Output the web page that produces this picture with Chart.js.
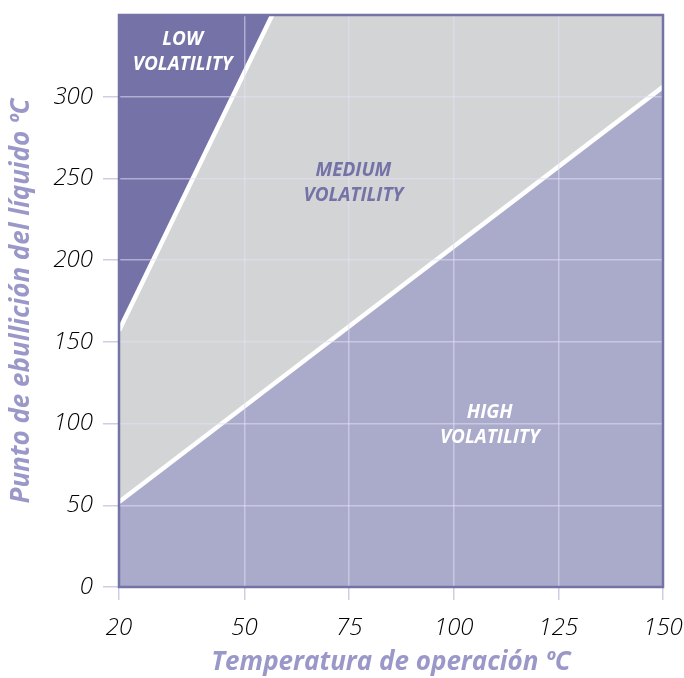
<!DOCTYPE html>
<html>
<head>
<meta charset="utf-8">
<script src="https://cdn.jsdelivr.net/npm/chart.js@4/dist/chart.umd.min.js"></script>
<style>
  html, body { margin: 0; padding: 0; background: #fff; }
  #wrap { width: 684px; height: 678px; }
</style>
</head>
<body>
<div id="wrap"><canvas id="myChart"></canvas></div>
<script>
// Boundary lines (temperature, boiling point)
const lowerX = [20, 150];
const lowerY = [52, 306];
const upperX = [20, 57];
const upperY = [157, 352];

// Tick labels
const xTicks = [20, 50, 75, 100, 125, 150];
const yTicks = [0, 50, 100, 150, 200, 250, 300];

// Region labels
const zoneNames = [['LOW', 'VOLATILITY'], ['MEDIUM', 'VOLATILITY'], ['HIGH', 'VOLATILITY']];
const zoneX = [35.2, 76, 108.6];
const zoneY = [327, 247, 99];
const zoneColors = ['#ffffff', '#7472a6', '#ffffff'];

const purple = '#7472a6';
const titleColor = '#9a98c8';

// background + frame of the plot
const framePlugin = {
    id: 'frame',
    beforeDatasetsDraw(chart) {
        const a = chart.chartArea, c = chart.ctx;
        c.save();
        c.fillStyle = '#d3d4d6';
        c.fillRect(a.left, a.top, a.width, a.height);
        c.restore();
    },
    afterDraw(chart) {
        const a = chart.chartArea, c = chart.ctx;
        const xs = chart.scales.x, ys = chart.scales.y;
        c.save();
        // zone labels
        c.font = 'italic bold 19px "Open Sans"';
        c.textAlign = 'center';
        c.textBaseline = 'middle';
        zoneNames.forEach((lines, i) => {
            c.fillStyle = zoneColors[i];
            const px = xs.getPixelForValue(zoneX[i]);
            const py = ys.getPixelForValue(zoneY[i]);
            lines.forEach((t, j) => c.fillText(t, px, py + (j - 0.5) * 25));
        });
        // frame
        c.strokeStyle = purple;
        c.lineWidth = 2.5;
        c.strokeRect(a.left, a.top, a.width, a.height);
        c.restore();
    }
};

const ctx = document.getElementById('myChart').getContext('2d');
const myChart = new Chart(ctx, {
    type: 'scatter',
    data: {
        datasets: [
            {
                // high / medium boundary
                data: lowerX.map((x, i) => ({ x: x, y: lowerY[i] })),
                showLine: true,
                borderColor: '#ffffff',
                borderWidth: 4.5,
                backgroundColor: '#aaaacb',
                fill: 'origin',
                pointRadius: 0
            },
            {
                // medium / low boundary
                data: upperX.map((x, i) => ({ x: x, y: upperY[i] })),
                showLine: true,
                borderColor: '#ffffff',
                borderWidth: 4.5,
                backgroundColor: purple,
                fill: 'end',
                pointRadius: 0
            }
        ]
    },
    options: {
        responsive: true,
        maintainAspectRatio: false,
        animation: false,
        layout: { padding: { top: 15, right: 21, left: 0, bottom: 0 } },
        plugins: {
            legend: { display: false },
            tooltip: { enabled: false }
        },
        scales: {
            x: {
                type: 'linear',
                min: 20,
                max: 150,
                afterBuildTicks: s => { s.ticks = xTicks.map(v => ({ value: v })); },
                afterFit: s => { s.height = 91; s.paddingLeft = 0; s.paddingRight = 0; },
                border: { display: false },
                grid: {
                    z: 1,
                    color: 'rgba(226,224,246,0.55)',
                    lineWidth: 1.5,
                    tickColor: '#cfcde3',
                    tickLength: 13
                },
                ticks: {
                    color: '#000',
                    padding: 14,
                    maxRotation: 0,
                    font: { family: 'Open Sans', size: 24, style: 'italic', weight: 300 }
                },
                title: {
                    display: true,
                    text: 'Temperatura de operación ºC',
                    color: titleColor,
                    padding: { top: 0, bottom: 0 },
                    font: { family: 'Open Sans', size: 26, style: 'italic', weight: 'bold' }
                }
            },
            y: {
                type: 'linear',
                min: 0,
                max: 350,
                afterBuildTicks: s => { s.ticks = yTicks.map(v => ({ value: v })); },
                afterFit: s => { s.width = 119; s.paddingTop = 0; s.paddingBottom = 0; },
                border: { display: false },
                grid: {
                    z: 1,
                    color: 'rgba(226,224,246,0.55)',
                    lineWidth: 1.5,
                    tickColor: '#cfcde3',
                    tickLength: 16
                },
                ticks: {
                    color: '#000',
                    padding: 10,
                    font: { family: 'Open Sans', size: 24, style: 'italic', weight: 300 }
                },
                title: {
                    display: true,
                    text: 'Punto de ebullición del líquido ºC',
                    color: titleColor,
                    padding: { top: 6, bottom: 0 },
                    font: { family: 'Open Sans', size: 26, style: 'italic', weight: 'bold' }
                }
            }
        }
    },
    plugins: [framePlugin]
});
</script>
</body>
</html>
